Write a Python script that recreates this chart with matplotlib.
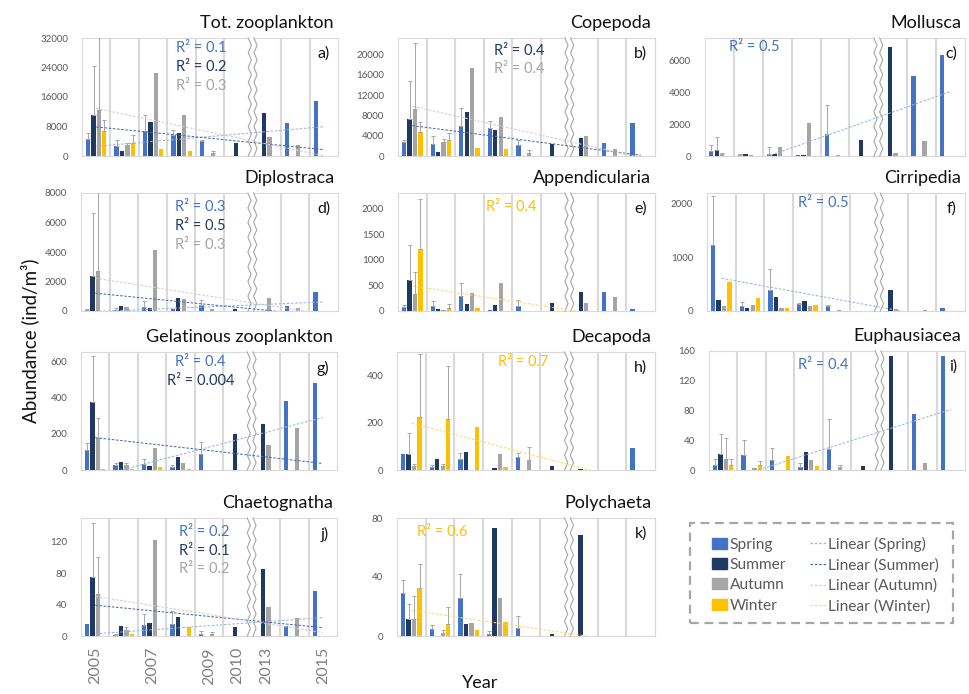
import numpy as np
import matplotlib
matplotlib.use("Agg")
import matplotlib.pyplot as plt
from matplotlib.patches import Polygon, Rectangle, Patch
from matplotlib.lines import Line2D

plt.rcParams['font.family'] = ['Lato', 'DejaVu Sans']

N = np.nan
seasons = ["Spring", "Summer", "Autumn", "Winter"]
bar_colors = ["#4472C4", "#1F3864", "#A5A5A5", "#FFC000"]
trend_colors = ["#9DB5E0", "#4F6FA8", "#CFCFCF", "#FFD966"]
year_labels = ["2005", "", "2007", "", "2009", "2010", "2013", "", "2015"]

# rows: Spring, Summer, Autumn, Winter ; columns: 2005 2006 2007 2008 2009 2010 2013 2014 2015
# *_err: upper error bar (only 2005-2009)
tot_zoo = [[4500, 2730, 6900, 5640, 4180, N, N, 8820, 14800],
           [11100, 1270, 9270, 6360, N, 3640, 11640, N, N],
           [12600, 3000, 22640, 11090, 730, N, 5270, 2900, N],
           [6730, 3640, 1820, 1270, N, N, N, N, N]]
tot_zoo_err = [[1800, 1500, 4100, 1400, 200],
               [13400, N, N, N, N],
               [20000, 550, N, N, 600],
               [3000, 2000, N, N, N]]

copepoda = [[2850, 2450, 5900, 5500, 2250, N, N, 2650, 6420],
            [7220, 730, 8610, 5170, N, 2320, 3580, N, N],
            [9340, 2720, 17350, 7620, 600, N, 3910, 1320, N],
            [4830, 3250, 1590, 1320, N, N, N, N, N]]
copepoda_err = [[400, 1450, 3500, 1320, 860],
                [7610, N, N, N, N],
                [12980, 720, N, N, 530],
                [1790, 1390, N, N, N]]

mollusca = [[300, 80, 150, 60, 1350, N, N, 5010, 6320],
            [400, 100, 150, 40, N, 1030, 6820, N, N],
            [110, 60, 570, 2060, 80, N, 210, 930, N],
            [15, 10, 10, 10, N, N, N, N, N]]
mollusca_err = [[400, 70, 420, N, 1850],
                [800, N, N, N, N],
                [60, N, N, N, N],
                [N, N, N, N, N]]

diplostraca = [[90, 70, 270, 110, 430, N, N, 360, 1260],
               [2340, 360, 200, 880, N, 135, N, N, N],
               [2680, 250, 4150, 790, 135, N, 856, 200, N],
               [N, N, N, N, N, N, N, N, N]]
diplostraca_err = [[50, 150, 380, N, 320],
                   [4330, N, N, N, N],
                   [6000, N, N, N, N],
                   [N, N, N, N, N]]

appendicularia = [[71, 104, 286, 20, 91, N, N, 370, 45],
                  [604, 45, 136, 123, N, 156, 370, N, N],
                  [325, 13, 357, 552, 3, N, 162, 279, N],
                  [1201, 65, 65, N, N, N, N, N, N]]
appendicularia_err = [[40, 90, 266, N, 130],
                      [688, N, N, N, N],
                      [441, N, N, N, N],
                      [981, 78, N, N, N]]

cirripedia = [[1222, 99, 395, 123, 86, N, N, N, 62],
              [198, 56, 253, 191, N, 5, 383, N, N],
              [93, 111, 56, 99, 19, N, 37, 18, N],
              [537, 247, 56, 105, N, N, N, N, N]]
cirripedia_err = [[914, 60, 389, 25, 25],
                  [N, N, N, N, N],
                  [N, N, N, N, N],
                  [N, N, N, N, N]]

gelatinous = [[110, 26, 33, 18, 90, N, N, 379, 478],
              [377, 46, 24, 71, N, 196, 251, N, N],
              [179, 29, 121, 38, 1, N, 137, 231, N],
              [7, 4, 16, 5, N, N, N, N, N]]
gelatinous_err = [[40, 11, 26, 11, 62],
                  [249, N, N, N, N],
                  [110, 11, N, N, N],
                  [N, N, N, N, N]]

decapoda = [[66, 14, 45, 1, 57, N, N, 1, 95],
            [66, 45, 78, 8, N, 17, 3, N, N],
            [17, 17, 1, 66, 42, N, N, N, N],
            [224, 217, 183, 13, N, N, N, N, N]]
decapoda_err = [[N, 8, 29, N, 17],
                [92, N, N, N, N],
                [7, 8, N, N, 57],
                [266, 224, N, N, N]]

euphausiacea = [[6.3, 20, 14, 4, 28, N, N, 75, 153],
                [21.5, N, N, 24.6, N, 5.8, 153, N, N],
                [14.3, 2.7, N, 13, 3.6, N, N, 9.8, N],
                [6.7, 6.3, 18.3, 5.4, N, N, N, N, N]]
euphausiacea_err = [[8.7, 21, 15, 5.4, 40],
                    [27.5, N, N, N, N],
                    [28.7, N, N, N, 2.7],
                    [7.6, 5.3, N, N, N]]

chaetognatha = [[15.7, 1.3, 14, 15, 2.5, N, N, 12.3, 57],
                [75, 13, 16, 24, N, 11, 85, N, N],
                [54, 8, 122.6, N, 2.5, N, 36.5, 22.5, N],
                [N, 2, N, 11, N, N, N, N, N]]
chaetognatha_err = [[N, 1.2, 13.6, 17, 3.9],
                    [69, N, N, N, N],
                    [46, 3, N, N, 2.5],
                    [N, N, N, N, N]]

polychaeta = [[29, 4.5, 26, 1.4, 5.4, N, N, N, N],
              [11.3, N, 7.9, 73.2, N, 1.6, 68.2, N, N],
              [11.3, 1.8, 9, 26, N, N, N, N, N],
              [32.3, 8.1, 3.8, 9.7, N, N, N, N, N]]
polychaeta_err = [[8.7, 3.2, 16.3, 2, 7.9],
                  [10.7, N, N, N, N],
                  [15.7, 2.5, N, N, N],
                  [16.7, 11.9, N, N, N]]

# title, letter, values, errors, y max, tick step, trend series, R² texts
panels = [
    ("Tot. zooplankton", "a)", tot_zoo, tot_zoo_err, 32000, 8000, [0, 1, 2], ["0.1", "0.2", "0.3"]),
    ("Copepoda", "b)", copepoda, copepoda_err, 23300, 4000, [1, 2], ["0.4", "0.4"]),
    ("Mollusca", "c)", mollusca, mollusca_err, 7400, 2000, [0], ["0.5"]),
    ("Diplostraca", "d)", diplostraca, diplostraca_err, 8000, 2000, [0, 1, 2], ["0.3", "0.5", "0.3"]),
    ("Appendicularia", "e)", appendicularia, appendicularia_err, 2300, 500, [3], ["0.4"]),
    ("Cirripedia", "f)", cirripedia, cirripedia_err, 2200, 1000, [0], ["0.5"]),
    ("Gelatinous zooplankton", "g)", gelatinous, gelatinous_err, 650, 200, [0, 1], ["0.4", "0.004"]),
    ("Decapoda", "h)", decapoda, decapoda_err, 500, 200, [3], ["0.7"]),
    ("Euphausiacea", "i)", euphausiacea, euphausiacea_err, 160, 40, [0], ["0.4"]),
    ("Chaetognatha", "j)", chaetognatha, chaetognatha_err, 150, 40, [0, 1, 2], ["0.2", "0.1", "0.2"]),
    ("Polychaeta", "k)", polychaeta, polychaeta_err, 80, 40, [3], ["0.6"]),
]

# layout in pixels: axes box (left, top, right, bottom) and R² label anchors
rects = [(82, 38, 338, 156), (398, 38, 655, 156), (705, 38, 965, 156),
         (81, 193, 338, 311), (398, 193, 655, 311), (707, 193, 965, 311),
         (81, 352, 337, 470), (397, 352, 655, 470), (709, 351, 965, 470),
         (81, 518, 337, 636), (397, 518, 655, 636)]
r2_pos = [[(176, 48), (176, 67), (176, 86)], [(494, 51), (494, 69)], [(729, 47)],
          [(175, 207), (175, 226), (175, 245)], [(486, 207)], [(798, 203)],
          [(175, 362), (167, 381)], [(498, 362)], [(798, 365)],
          [(179, 532), (179, 551), (179, 569)], [(417, 532)]]

W, H = 969, 694
fig = plt.figure(figsize=(W / 100, H / 100), dpi=100)


def fx(px):
    return px / W


def fy(py):
    return 1 - py / H


def zigzag(ax, xc=6.5, gap=0.1, amp=0.055, n=8):
    ys = np.linspace(0, 1, 2 * n + 1)
    wig = amp * np.where(np.arange(ys.size) % 2 == 0, -1, 1)
    xl, xr = xc - gap + wig, xc + gap + wig
    tr = ax.get_xaxis_transform()
    poly = np.column_stack([np.r_[xl, xr[::-1]], np.r_[ys, ys[::-1]]])
    ax.add_patch(Polygon(poly, closed=True, fc="white", ec="none", transform=tr, zorder=4.5))
    for xs in (xl, xr):
        ax.plot(xs, ys, color="#A6A6A6", lw=0.8, transform=tr, zorder=4.6, clip_on=False)


x = np.arange(1, 10)
offs = (np.arange(4) - 1.5) * 0.19

for i, (title, letter, vals, errs, ymax, step, trend, r2) in enumerate(panels):
    l, t, r, b = rects[i]
    ax = fig.add_axes([fx(l), fy(b), fx(r - l), (b - t) / H])
    vals = np.array(vals, float)
    errs = np.array(errs, float)
    for k in range(4):
        ax.bar(x + offs[k], vals[k], width=0.15, color=bar_colors[k], lw=0, zorder=3)
        e = errs[k]
        m = ~np.isnan(e) & ~np.isnan(vals[k][:5])
        if m.any():
            ax.errorbar((x[:5] + offs[k])[m], vals[k][:5][m], yerr=[np.zeros(m.sum()), e[m]],
                        fmt="none", ecolor="#A6A6A6", elinewidth=0.7, capsize=1.5,
                        capthick=0.7, zorder=4)
    for k in trend:
        p = np.polyfit(x, np.nan_to_num(vals[k]), 1)
        ax.plot(x, np.polyval(p, x), ls=(0, (2.5, 1.5)), lw=0.75, color=trend_colors[k], zorder=5)
    for s in [1.5, 2.5, 3.5, 4.5, 5.5, 7.5, 8.5]:
        ax.axvline(s, color="#D9D9D9", lw=1.5, zorder=1)
    zigzag(ax)

    ax.set_xlim(0.5, 9.5)
    ax.set_ylim(0, ymax)
    ax.set_yticks(np.arange(0, ymax + 1, step))
    ax.set_xticks(x)
    if letter == "j)":
        ax.set_xticklabels(year_labels, rotation=90)
    else:
        ax.set_xticklabels([])
    ax.tick_params(axis="y", length=0, pad=10, labelsize=7, labelcolor="#595959")
    ax.tick_params(axis="x", length=0, pad=8, labelsize=11.5, labelcolor="#7F7F7F")
    for sp in ax.spines.values():
        sp.set_color("#D9D9D9")
        sp.set_linewidth(0.8)

    fig.text(fx(r - 4), fy(t - 10), title, ha="right", va="baseline", fontsize=13, color="#111111")
    fig.text(fx(r - 8), fy(t + 16), letter, ha="right", va="center", fontsize=11.5, color="#111111")
    for k, txt, (px, py) in zip(trend, r2, r2_pos[i]):
        fig.text(fx(px), fy(py), "R² = " + txt, ha="left", va="center", fontsize=10.5,
                 color=bar_colors[k])

fig.text(fx(30), fy(341), "Abundance (ind/m³)", rotation=90, ha="center", va="center",
         fontsize=13.5, color="#111111")
fig.text(fx(480), fy(683), "Year", ha="center", va="center", fontsize=13, color="#111111")

# legend
fig.patches.append(Rectangle((fx(690), fy(623)), fx(953 - 690), (623 - 523) / H,
                             transform=fig.transFigure, fill=False, ec="#A6A6A6",
                             lw=1.6, ls=(0, (4, 2.5))))
handles = [Patch(color=c) for c in bar_colors]
handles += [Line2D([], [], color=c, ls=(0, (2, 1.5)), lw=0.9) for c in trend_colors]
labels = seasons + ["Linear (%s)" % s for s in seasons]
fig.legend(handles, labels, ncol=2, loc="upper left", bbox_to_anchor=(fx(704), fy(529)),
           frameon=False, fontsize=11.2, handlelength=1.0, handletextpad=0.15,
           columnspacing=1.55, labelspacing=0.4, borderpad=0, labelcolor="#595959")

fig.savefig("out.png", dpi=100)
